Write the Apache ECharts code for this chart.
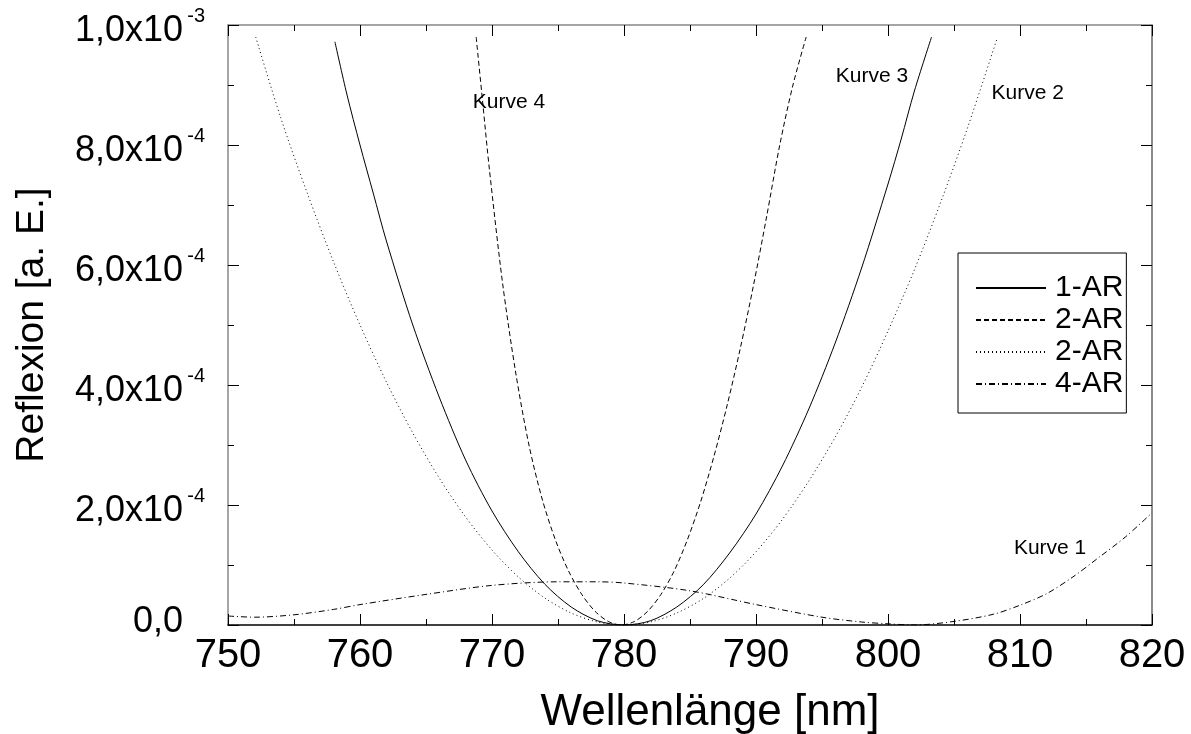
<!DOCTYPE html>
<html>
<head>
<meta charset="utf-8">
<script src="https://cdn.jsdelivr.net/npm/echarts@6/dist/echarts.min.js"></script>
<style>
html,body{margin:0;padding:0;background:#fff;}
#c{width:1191px;height:734px;}
</style>
</head>
<body>
<div id="c"></div>
<script>
// Wavelength in nm, reflexion in units of 1e-4
const ar1X = [758.1, 759, 760, 761, 762, 764, 766, 768, 770, 772, 774, 776, 778, 780, 782, 784, 786, 788, 790, 792, 794, 796, 798, 800, 801, 802, 803.3];
const ar1Y = [9.72, 8.85, 8.0, 7.2, 6.4, 5.0, 3.8, 2.75, 1.9, 1.22, 0.68, 0.3, 0.07, 0.0, 0.07, 0.3, 0.67, 1.2, 1.85, 2.65, 3.6, 4.7, 5.95, 7.35, 8.1, 8.9, 9.8];

const ar2aX = [768.8, 769.3, 769.8, 770.8, 771.8, 772.8, 773.8, 774.8, 775.8, 776.8, 777.8, 778.8, 779.8, 780.8, 781.8, 782.8, 783.8, 784.8, 785.8, 786.8, 787.8, 788.8, 789.8, 790.8, 791.8, 792.8, 793.8];
const ar2aY = [9.8, 8.7, 7.6, 5.7, 4.2, 3.0, 2.1, 1.42, 0.9, 0.51, 0.23, 0.06, 0.0, 0.06, 0.23, 0.51, 0.9, 1.42, 2.05, 2.8, 3.65, 4.6, 5.65, 6.8, 8.0, 9.0, 9.8];

const ar2bX = [752.1, 754, 756, 758, 760, 762, 764, 766, 768, 770, 772, 774, 776, 778, 780, 782, 784, 786, 788, 790, 792, 794, 796, 798, 800, 802, 804, 806, 808.3];
const ar2bY = [9.8, 8.45, 7.2, 6.05, 5.0, 4.05, 3.2, 2.45, 1.8, 1.25, 0.8, 0.45, 0.2, 0.05, 0.0, 0.05, 0.2, 0.44, 0.78, 1.22, 1.76, 2.4, 3.13, 3.96, 4.9, 5.92, 7.05, 8.27, 9.8];

const ar4X = [750, 752, 755, 758, 760, 765, 770, 775, 778, 780, 785, 790, 795, 798, 800, 802, 805, 808, 810, 812, 814, 816, 818, 820];
const ar4Y = [0.15, 0.13, 0.17, 0.26, 0.34, 0.51, 0.66, 0.72, 0.72, 0.70, 0.57, 0.34, 0.13, 0.05, 0.02, 0.0, 0.06, 0.18, 0.33, 0.52, 0.8, 1.13, 1.47, 1.87];

const seriesNames = ['1-AR', '2-AR', '2-AR ', '4-AR'];

const curveLabels = ['Kurve 4', 'Kurve 3', 'Kurve 2', 'Kurve 1'];
const curveLabelX = [768.5, 796.0, 807.8, 809.5];
const curveLabelY = [8.72, 9.15, 8.87, 1.28];

const yTickValues = [0, 2, 4, 6, 8, 10];
const yTickMantissa = ['0,0', '2,0x10', '4,0x10', '6,0x10', '8,0x10', '1,0x10'];
const yTickExp = ['', '-4', '-4', '-4', '-4', '-3'];

const xTitle = 'Wellenlänge [nm]';
const yTitle = 'Reflexion [a. E.]';

function zip(xs, ys) { return xs.map((x, i) => [x, ys[i]]); }

const FONT = 'Liberation Sans';

const chart = echarts.init(document.getElementById('c'), null, {renderer: 'canvas'});

const lineBase = (name, xs, ys, type) => ({
  name: name,
  type: 'line',
  data: zip(xs, ys),
  symbol: 'none',
  smooth: 0.3,
  xAxisIndex: 0, yAxisIndex: 0,
  lineStyle: {color: '#000', width: 1, type: type},
  itemStyle: {color: '#000'},
  emphasis: {disabled: true},
  animation: false,
  z: 3
});

const option = {
  animation: false,
  backgroundColor: '#fff',
  grid: {left: 228, right: 39, top: 25, bottom: 109, containLabel: false, outerBoundsMode: 'none'},
  legend: {
    data: seriesNames,
    formatter: n => n.trim(),
    orient: 'vertical',
    left: 958, top: 253,
    padding: [20, 3, 14, 17],
    itemWidth: 70, itemHeight: 14, itemGap: 2,
    borderColor: '#000', borderWidth: 1,
    itemStyle: {opacity: 0},
    textStyle: {fontFamily: FONT, fontSize: 30, color: '#000', padding: [0, 0, 0, 4]},
    selectedMode: false
  },
  xAxis: [{
    type: 'value', min: 750, max: 820, interval: 10,
    position: 'bottom',
    name: xTitle, nameLocation: 'middle', nameGap: 66,
    nameTextStyle: {fontFamily: FONT, fontSize: 44, color: '#000', padding: [0, 0, 0, 40]},
    axisLine: {show: true, onZero: false, lineStyle: {color: '#000', width: 1.5}},
    axisTick: {show: true, inside: true, length: 11, lineStyle: {color: '#000', width: 1}},
    minorTick: {show: true, splitNumber: 2, length: 6, lineStyle: {color: '#000', width: 1}},
    splitLine: {show: false},
    axisLabel: {fontFamily: FONT, fontSize: 40, color: '#000', margin: 11}
  }, {
    type: 'value', min: 750, max: 820, interval: 10,
    position: 'top',
    axisLine: {show: true, onZero: false, lineStyle: {color: '#888', width: 1.5}},
    axisTick: {show: true, inside: true, length: 11, lineStyle: {color: '#000', width: 1}},
    minorTick: {show: true, splitNumber: 2, length: 6, lineStyle: {color: '#000', width: 1}},
    splitLine: {show: false},
    axisLabel: {show: false}
  }],
  yAxis: [{
    type: 'value', min: 0, max: 10, interval: 2,
    position: 'left',
    name: yTitle, nameLocation: 'middle', nameGap: 176,
    nameTextStyle: {fontFamily: FONT, fontSize: 39, color: '#000'},
    axisLine: {show: true, onZero: false, lineStyle: {color: '#888', width: 1.5}},
    axisTick: {show: true, inside: true, length: 11, lineStyle: {color: '#000', width: 1}},
    minorTick: {show: true, splitNumber: 2, length: 6, lineStyle: {color: '#000', width: 1}},
    splitLine: {show: false},
    axisLabel: {
      margin: 23,
      padding: [12, 0, 0, 0],
      formatter: function (v) {
        const i = yTickValues.indexOf(Math.round(v));
        if (i < 0) return '';
        if (!yTickExp[i]) return '{z|' + yTickMantissa[i] + '}{e| }';
        return '{b|' + yTickMantissa[i] + '}{s|' + yTickExp[i] + '}';
      },
      rich: {
        b: {fontFamily: FONT, fontSize: 36, color: '#000'},
        z: {fontFamily: FONT, fontSize: 36, color: '#000', padding: [0, 0, 18, 0]},
        e: {fontFamily: FONT, fontSize: 20, color: '#000', width: 22},
        s: {fontFamily: FONT, fontSize: 20, color: '#000', width: 22, align: 'right', padding: [0, 0, 30, 0]}
      }
    }
  }, {
    type: 'value', min: 0, max: 10, interval: 2,
    position: 'right',
    axisLine: {show: true, onZero: false, lineStyle: {color: '#666', width: 1.5}},
    axisTick: {show: true, inside: true, length: 11, lineStyle: {color: '#000', width: 1}},
    minorTick: {show: true, splitNumber: 2, length: 6, lineStyle: {color: '#000', width: 1}},
    splitLine: {show: false},
    axisLabel: {show: false}
  }],
  series: [
    lineBase(seriesNames[0], ar1X, ar1Y, 'solid'),
    lineBase(seriesNames[1], ar2aX, ar2aY, [5, 3]),
    lineBase(seriesNames[2], ar2bX, ar2bY, [1, 3]),
    lineBase(seriesNames[3], ar4X, ar4Y, [6, 3, 1, 3]),
    {
      name: 'labels',
      type: 'scatter',
      symbol: 'circle',
      symbolSize: 1,
      silent: true,
      itemStyle: {color: 'rgba(0,0,0,0)'},
      data: curveLabels.map((t, i) => ({value: [curveLabelX[i], curveLabelY[i]], name: t})),
      label: {
        show: true, position: 'right', distance: 0,
        formatter: p => p.name,
        fontFamily: FONT, fontSize: 21, color: '#000', opacity: 1
      },
      z: 4
    }
  ]
};
chart.setOption(option);
</script>
</body>
</html>
